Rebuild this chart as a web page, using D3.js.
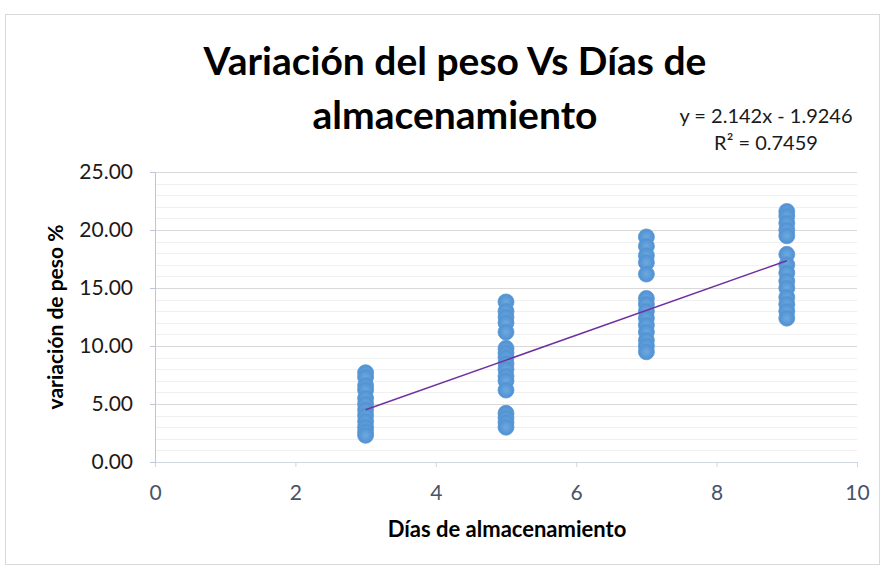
<!DOCTYPE html>
<html>
<head>
<meta charset="utf-8">
<script src="https://d3js.org/d3.v7.min.js"></script>
<style>
  body { margin: 0; background: #fff; }
  text { font-family: Lato, "Liberation Sans", sans-serif; }
</style>
</head>
<body>
<div id="chart"></div>
<script>
// días de almacenamiento y variación de peso (%)
var dias = [3, 5, 7, 9];
var peso3 = [7.7, 7.3, 6.6, 6.2, 5.5, 5.0, 4.5, 4.0, 3.5, 3.0, 2.6, 2.3];
var peso5 = [13.8, 13.0, 12.5, 12.0, 11.2, 9.8, 9.4, 9.0, 8.5, 8.0, 7.4, 7.0, 6.2, 4.2, 3.8, 3.4, 3.0];
var peso7 = [19.4, 18.6, 17.8, 17.2, 16.2, 14.1, 13.6, 13.0, 12.4, 11.8, 11.2, 10.5, 10.0, 9.5];
var peso9 = [21.6, 21.2, 20.6, 20.0, 19.5, 17.9, 17.0, 16.3, 15.6, 15.0, 14.2, 13.6, 13.0, 12.4];
var xTicks = [0, 2, 4, 6, 8, 10];
var yTicks = [0, 5, 10, 15, 20, 25];
// línea de tendencia que muestra el gráfico
var pendiente = 2.142, intercepto = -1.9246;

var data = [];
[peso3, peso5, peso7, peso9].forEach(function(serie, i) {
  serie.forEach(function(v) { data.push({x: dias[i], y: v}); });
});

var W = 885, H = 569;
var margin = {top: 172, right: 28, bottom: 107, left: 155};
var width = W - margin.left - margin.right,
    height = H - margin.top - margin.bottom;

var svg = d3.select("#chart").append("svg")
  .attr("width", W).attr("height", H);

// borde del área del gráfico
svg.append("rect")
  .attr("x", 5.5).attr("y", 14.5)
  .attr("width", 874).attr("height", 550)
  .attr("fill", "#fff").attr("stroke", "#d9d9d9");

var defs = svg.append("defs");
var grad = defs.append("radialGradient").attr("id", "dot");
grad.append("stop").attr("offset", "0%").attr("stop-color", "#6eaae0");
grad.append("stop").attr("offset", "100%").attr("stop-color", "#4f90d2");

var g = svg.append("g")
  .attr("transform", "translate(" + margin.left + "," + margin.top + ")");

var x = d3.scaleLinear().domain([0, 10]).range([0, width]);
var y = d3.scaleLinear().domain([0, 25]).range([height, 0]);

// líneas de división secundarias
g.append("g").selectAll("line")
  .data(d3.range(0, 26).filter(function(v) { return v % 5 != 0; }))
  .enter().append("line")
    .attr("x1", 0).attr("x2", width)
    .attr("y1", function(d) { return Math.round(y(d)) + 0.5; })
    .attr("y2", function(d) { return Math.round(y(d)) + 0.5; })
    .attr("stroke", "#f0f0f0");

// líneas principales
g.append("g").selectAll("line")
  .data(yTicks.slice(1))
  .enter().append("line")
    .attr("x1", 0).attr("x2", width)
    .attr("y1", function(d) { return Math.round(y(d)) + 0.5; })
    .attr("y2", function(d) { return Math.round(y(d)) + 0.5; })
    .attr("stroke", "#d9d9d9");

var xAxis = g.append("g")
  .attr("transform", "translate(0," + height + ")")
  .call(d3.axisBottom(x).tickValues(xTicks).tickSize(5).tickPadding(18));
xAxis.select(".domain").attr("stroke", "#d0d6e0");
xAxis.selectAll(".tick line").attr("stroke", "#d0d6e0");
xAxis.selectAll("text").attr("fill", "#44546a").style("font-size", "21px");

var yAxis = g.append("g")
  .call(d3.axisLeft(y).tickValues(yTicks).tickSize(5).tickPadding(17)
    .tickFormat(d3.format(".2f")));
yAxis.select(".domain").attr("stroke", "#bcc6d6");
yAxis.selectAll(".tick line").attr("stroke", "#bcc6d6");
yAxis.selectAll("text").attr("fill", "#1a1a1a").style("font-size", "21px");

// puntos
g.append("g").selectAll("circle")
  .data(data)
  .enter().append("circle")
    .attr("cx", function(d) { return x(d.x); })
    .attr("cy", function(d) { return y(d.y); })
    .attr("r", 8)
    .attr("fill", "url(#dot)")
    .attr("stroke", "#5b9bd5")
    .attr("stroke-width", 0.8);

// tendencia lineal
g.append("line")
  .attr("x1", x(3)).attr("y1", y(pendiente * 3 + intercepto))
  .attr("x2", x(9)).attr("y2", y(pendiente * 9 + intercepto))
  .attr("stroke", "#7030a0").attr("stroke-width", 1.5);

// títulos
svg.append("text")
  .attr("x", 455).attr("y", 75)
  .attr("text-anchor", "middle")
  .style("font-size", "39px").style("font-weight", "bold")
  .text("Variación del peso Vs Días de");
svg.append("text")
  .attr("x", 455).attr("y", 129)
  .attr("text-anchor", "middle")
  .style("font-size", "39px").style("font-weight", "bold")
  .text("almacenamiento");

svg.append("text")
  .attr("x", 766).attr("y", 123)
  .attr("text-anchor", "middle")
  .style("font-size", "20px").attr("fill", "#1a1a1a")
  .text("y = 2.142x - 1.9246");
svg.append("text")
  .attr("x", 766).attr("y", 150)
  .attr("text-anchor", "middle")
  .style("font-size", "20px").attr("fill", "#1a1a1a")
  .text("R² = 0.7459");

svg.append("text")
  .attr("x", 507).attr("y", 537)
  .attr("text-anchor", "middle")
  .style("font-size", "22px").style("font-weight", "bold")
  .text("Días de almacenamiento");

svg.append("text")
  .attr("transform", "translate(63,317) rotate(-90)")
  .attr("text-anchor", "middle")
  .style("font-size", "21px").style("font-weight", "bold")
  .text("variación de peso %");
</script>
</body>
</html>
